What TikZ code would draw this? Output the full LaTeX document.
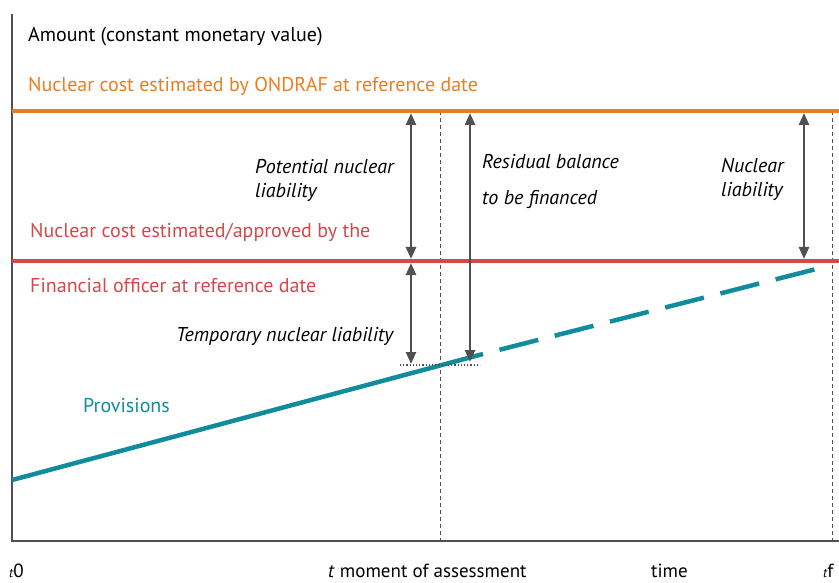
\documentclass[tikz,border=0pt]{standalone}
\usepackage{fontspec}
\setmainfont{PT Sans}
\usetikzlibrary{arrows.meta}
\definecolor{orng}{HTML}{EE7D1E}
\definecolor{rd}{HTML}{D6474B}
\definecolor{tl}{HTML}{108C9C}
\definecolor{gr}{HTML}{505050}
\begin{document}
\begin{tikzpicture}[x=1pt,y=-1pt,
  lbl/.style={anchor=base west,inner sep=0pt,font=\fontsize{20}{23}\selectfont},
  ilbl/.style={anchor=base west,inner sep=0pt,font=\fontsize{20}{23}\selectfont\itshape},
  blbl/.style={anchor=base west,inner sep=0pt,text depth=0pt,font=\fontsize{19}{22}\selectfont},
  dim/.style={gr,line width=2.5pt,{Triangle[width=10pt,length=12pt]}-{Triangle[width=10pt,length=12pt]}},
  guide/.style={gr,line width=1pt,dash pattern=on 4pt off 3pt},
  level/.style={line width=4pt}]
\useasboundingbox (0,0) rectangle (839,583);
% axes
\coordinate (ytop) at (12,14);
\coordinate (orig) at (12,541);
\coordinate (xend) at (839,541);
\draw[gr,line width=2pt] (ytop) -- (orig) -- (xend);
% guides
\coordinate (g1t) at (440,111);
\coordinate (g1b) at (440,541);
\coordinate (g2t) at (832,111);
\coordinate (g2b) at (832,541);
\draw[guide] (g1t) -- (g1b);
\draw[guide] (g2t) -- (g2b);
% levels
\coordinate (oL) at (12,111);
\coordinate (oR) at (839,111);
\coordinate (rL) at (12,261);
\coordinate (rR) at (839,261);
\draw[level,orng] (oL) -- (oR);
\draw[level,rd] (rL) -- (rR);
% provisions
\coordinate (p0) at (12,480);
\coordinate (pm) at (483,354);
\coordinate (pf) at (828,266);
\draw[tl,line width=4.5pt] (p0) -- (pm);
\draw[tl,line width=4.5pt,dash pattern=on 40pt off 17pt,dash phase=40pt] (pm) -- (pf);
% dotted
\coordinate (d0) at (400,365);
\coordinate (d1) at (480,365);
\draw[gr,line width=1.2pt,dotted] (d0) -- (d1);
% dimension arrows
\coordinate (a1t) at (411,113);
\coordinate (a1b) at (411,259);
\coordinate (a2t) at (411,263);
\coordinate (a2b) at (411,364);
\coordinate (a3t) at (470,113);
\coordinate (a3b) at (470,362);
\coordinate (a4t) at (804,113);
\coordinate (a4b) at (804,259);
\draw[dim] (a1t) -- (a1b);
\draw[dim] (a2t) -- (a2b);
\draw[dim] (a3t) -- (a3b);
\draw[dim] (a4t) -- (a4b);
% texts
\node[lbl] (amount) at (28,42) {Amount (constant monetary value)};
\node[lbl,text=orng] (ondraf) at (28,92) {Nuclear cost estimated by ONDRAF at reference date};
\node[lbl,text=rd] (fin1) at (30,237) {Nuclear cost estimated/approved by the};
\node[lbl,text=rd] (fin2) at (30,292) {Financial officer at reference date};
\node[lbl,text=tl] (prov) at (83,412) {Provisions};
\node[ilbl] (pot1) at (255,174) {Potential nuclear};
\node[ilbl] (pot2) at (255,198) {liability};
\node[ilbl] (temp) at (176,341) {Temporary nuclear liability};
\node[ilbl] (res1) at (482,169) {Residual balance};
\node[ilbl] (res2) at (482,205) {to be financed};
\node[ilbl] (nl1) at (721,173) {Nuclear};
\node[ilbl] (nl2) at (721,197) {liability};
\node[blbl] (t0) at (9,577) {{\fontsize{13}{15}\selectfont\itshape t}0};
\node[blbl] (tm) at (328,577) {\textit{t} moment of assessment};
\node[blbl] (time) at (651,577) {time};
\node[blbl] (tf) at (823,577) {{\fontsize{13}{15}\selectfont\itshape t}f};
\end{tikzpicture}
\end{document}
